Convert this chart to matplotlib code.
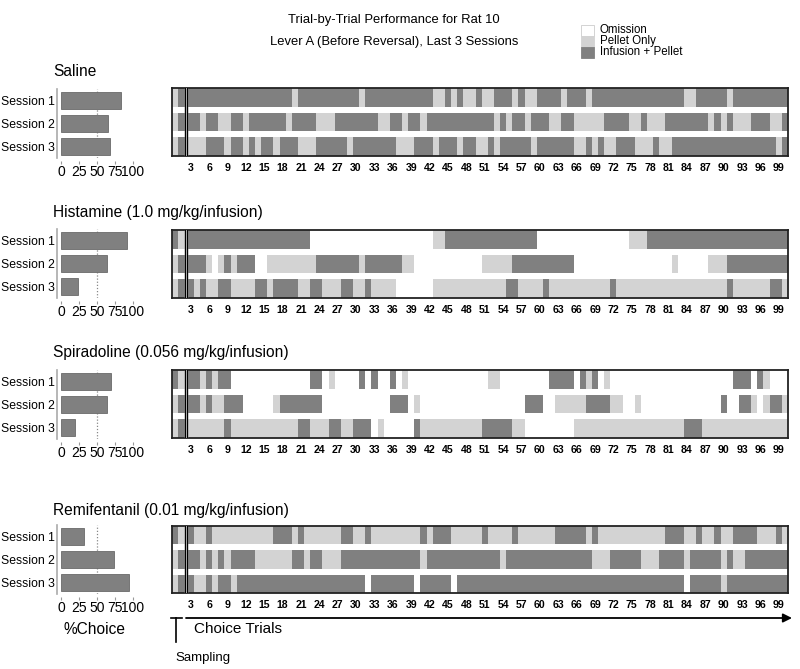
import matplotlib
matplotlib.use("Agg")
import matplotlib.pyplot as plt
from matplotlib.patches import Rectangle

plt.rcParams['font.family'] = ['Liberation Sans', 'DejaVu Sans']
BOLD = dict(fontweight="bold", family=["Liberation Sans", "DejaVu Sans"])

W, H = 800, 669

# ---------------- data ----------------
conditions = ["Saline",
              "Histamine (1.0 mg/kg/infusion)",
              "Spiradoline (0.056 mg/kg/infusion)",
              "Remifentanil (0.01 mg/kg/infusion)"]
sessions = ["Session 1", "Session 2", "Session 3"]
outcome_labels = ["Omission", "Pellet Only", "Infusion + Pellet"]
outcome_colors = ["#ffffff", "#d3d3d3", "#808080"]

# outcome codes per trial (trials 1-2 sampling, 3-100 choice)
# 0 = Omission, 1 = Pellet Only, 2 = Infusion + Pellet
saline = [
    "1222222222" "2222222221" "2222222222" "1222222222" "2211212112"
    "1122212112" "2221222122" "2222222222" "2221122222" "1222222222",
    "1222122112" "2122222212" "2221112222" "2221122122" "1222222222"
    "2212122122" "2112211111" "2222112111" "2222222121" "2111222112",
    "1211122212" "2121221222" "1112222212" "2222221112" "2212221221"
    "1212222212" "2222211212" "1122211121" "1222222222" "2222222212",
]
histamine = [
    "2122222222" "2222222222" "2200000000" "0000000000" "0011222222"
    "2222222220" "0000000000" "0000111222" "2222222222" "2222222222",
    "1222210121" "2220011111" "1112222222" "1222222110" "0000000000"
    "1111122222" "2222200000" "0000000000" "0100000111" "2222222222",
    "1221211221" "1112212222" "1122111221" "1211110000" "0011111111"
    "1111221111" "2111111111" "1211111111" "1111111111" "2111111221",
]
spiradoline = [
    "2122121220" "0000000000" "0022010000" "2020020100" "0000000000"
    "0110000000" "0222202120" "1000000000" "0000000000" "0222021000",
    "1222121122" "2000001222" "2222000000" "0000022201" "0000000000"
    "0000000222" "0011111222" "2110010000" "0000000002" "0022101221",
    "1211111121" "1111111111" "2211122112" "2201000002" "1111111111"
    "2222211000" "0000011111" "1111111111" "1112221111" "1111111111",
]
remifentanil = [
    "2121121111" "1111112221" "2111111221" "1211111111" "2122211111"
    "2111121111" "1122222121" "1111111111" "2221121121" "1222211121",
    "1222121212" "2221111112" "2122111222" "2222222222" "1222222222"
    "2221222222" "2222222211" "1222221112" "2221222221" "2112222222",
    "1221121221" "2222222222" "2222222222" "2022222220" "2222202222"
    "2222222222" "2222222222" "2222222222" "2220222221" "2222222222",
]
trial_data = [saline, histamine, spiradoline, remifentanil]

# % choice of infusion (Session 1, 2, 3)
pct_saline = [83, 65, 68]
pct_histamine = [92, 64, 24]
pct_spiradoline = [69, 64, 20]
pct_remifentanil = [32, 74, 95]
pct_data = [pct_saline, pct_histamine, pct_spiradoline, pct_remifentanil]

sampling_x = [0.5, 1.5]
choice_trials = list(range(3, 101))
trial_ticks = list(range(3, 100, 3))
pct_ticks = [0, 25, 50, 75, 100]

# ---------------- layout (pixels) ----------------
# title_y, box_top, box_bottom, bar_top, bar_bottom
layout = [
    (72, 88, 156, 89, 158),
    (212, 230, 298, 229, 298),
    (352, 370, 438, 370, 439),
    (510, 526, 593, 525, 594),
]


def frect(left, top, right, bottom):
    return [left / W, 1 - bottom / H, (right - left) / W, (bottom - top) / H]


fig = plt.figure(figsize=(W / 100, H / 100), dpi=100)

ov = fig.add_axes([0, 0, 1, 1], zorder=5)
ov.set_xlim(0, W)
ov.set_ylim(H, 0)
ov.axis("off")
ov.patch.set_visible(False)

# Titles
ov.text(394, 20, "Trial-by-Trial Performance for Rat 10", ha="center", va="center", fontsize=9.4)
ov.text(394, 42, "Lever A (Before Reversal), Last 3 Sessions", ha="center", va="center", fontsize=9.4)

# Legend
leg_y = [24.5, 35.5, 46.5]
for i, (lab, col) in enumerate(zip(outcome_labels, outcome_colors)):
    ov.add_patch(Rectangle((581, leg_y[i]), 12.5, 11, facecolor=col,
                           edgecolor="#cccccc" if i == 0 else col, lw=0.6))
    ov.text(600, leg_y[i] + 5.5, lab, ha="left", va="center", fontsize=8.3)

bar_axes = []
for p in range(4):
    ty, btop, bbot, rtop, rbot = layout[p]
    ov.text(53, ty, conditions[p], ha="left", va="center", fontsize=11.2)

    # heatmap
    ax = fig.add_axes(frect(172, btop, 788, bbot))
    for k in range(3):
        codes = [int(c) for c in trial_data[p][k]]
        cols = [outcome_colors[c] for c in codes]
        xs = sampling_x + choice_trials
        ax.bar(xs, [0.75] * len(xs), width=1.0, bottom=k, color=cols,
               linewidth=0, align="center")
    ax.set_xlim(-0.05, 100.5)
    ax.set_ylim(2.75, 0)
    ax.axvspan(2.0, 2.45, color="white", zorder=3)
    ax.axvline(2.05, color="black", lw=1.0, zorder=4)
    ax.axvline(2.42, color="black", lw=1.0, zorder=4)
    ax.set_xticks(trial_ticks)
    ax.set_xticklabels([str(t) for t in trial_ticks], fontsize=7.6, **BOLD)
    ax.tick_params(axis="x", length=0, pad=5)
    ax.set_yticks([])
    for s in ax.spines.values():
        s.set_linewidth(1.3)
        s.set_color("#222222")

    # bar chart
    bx = fig.add_axes(frect(61, rtop, 133, rbot))
    bx.barh([0, 1, 2], pct_data[p], height=0.77, color="#808080",
            edgecolor="#6a6a6a", linewidth=0.6)
    bx.axvline(50, color="#888888", ls=(0, (1, 1.5)), lw=0.9, zorder=0)
    bx.set_xlim(0, 100)
    bx.set_ylim(2.5, -0.5)
    bx.set_yticks([0, 1, 2])
    bx.set_yticklabels(sessions, fontsize=8.1, **BOLD)
    bx.set_xticks(pct_ticks)
    bx.set_xticklabels([str(t) for t in pct_ticks], fontsize=8.3, **BOLD)
    bx.tick_params(axis="y", length=0, pad=1.3)
    bx.tick_params(axis="x", length=2.0, color="#999999", pad=0.5)
    bx.spines["top"].set_visible(False)
    bx.spines["right"].set_visible(False)
    bx.spines["left"].set_position(("outward", 2.9))
    bx.spines["left"].set_color("#aaaaaa")
    bx.spines["left"].set_linewidth(1.2)
    bx.spines["bottom"].set_position(("outward", 2.5))
    bx.spines["bottom"].set_color("none")
    bx.patch.set_visible(False)
    bar_axes.append(bx)

# bottom annotations
ov.text(95, 629, "%Choice", ha="center", va="center", fontsize=11.2)
ov.text(194, 629, "Choice Trials", ha="left", va="center", fontsize=11)
ov.text(175, 658, "Sampling", ha="left", va="center", fontsize=9.5)
ov.plot([171, 182], [617.5, 617.5], color="black", lw=1.2)
ov.plot([176, 176], [617.5, 642], color="black", lw=1.2)
ov.annotate("", xy=(792, 618), xytext=(186, 618),
            arrowprops=dict(arrowstyle="-|>", color="black", lw=1.3,
                            mutation_scale=13, shrinkA=0, shrinkB=0))

# safety: keep the session labels inside the canvas
fig.canvas.draw()
renderer = fig.canvas.get_renderer()
labs = [lab for bx in bar_axes for lab in bx.get_yticklabels()]
min_x0 = min(lab.get_window_extent(renderer).x0 for lab in labs)
if min_x0 < 0.5:
    x1 = max(lab.get_window_extent(renderer).x1 for lab in labs)
    scale = (x1 - 1.0) / (x1 - min_x0)
    for lab in labs:
        lab.set_fontsize(lab.get_fontsize() * scale)

fig.savefig("out.png", dpi=100)
